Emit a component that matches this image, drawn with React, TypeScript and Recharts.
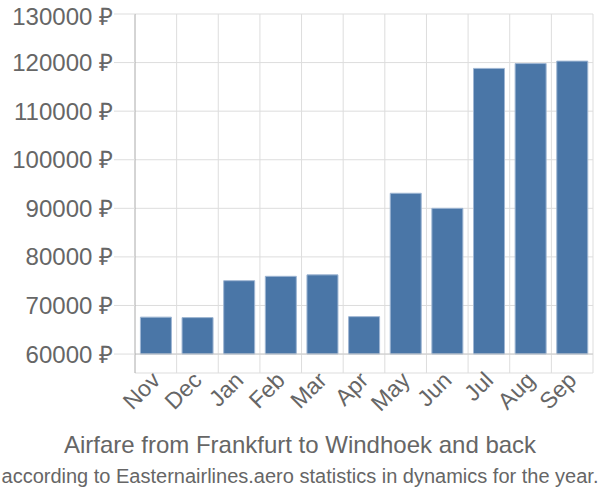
import { Bar, BarChart, CartesianGrid, ReferenceLine, XAxis, YAxis } from 'recharts'

const months = ['Nov', 'Dec', 'Jan', 'Feb', 'Mar', 'Apr', 'May', 'Jun', 'Jul', 'Aug', 'Sep']
const prices = [67600, 67500, 75100, 76000, 76300, 67700, 93100, 90000, 118800, 119800, 120300]
const yTicks = [60000, 70000, 80000, 90000, 100000, 110000, 120000, 130000]

const FONT = '"Liberation Sans", Arial, sans-serif'
const BASE = 60000

const data = months.map((m, i) => ({ month: m, range: [BASE, prices[i]] }))

// labels under the bars, turned 45 degrees
function MonthTick(props: any) {
  const { x, y, payload } = props
  const tx = x - 6
  const ty = y - 5
  return (
    <text
      x={tx}
      y={ty}
      dy="0.72em"
      textAnchor="end"
      fontSize={23}
      fill="#666"
      fontFamily={FONT}
      transform={`rotate(-45 ${tx} ${ty})`}
    >
      {payload.value}
    </text>
  )
}

export default function App() {
  return (
    <div style={{ position: 'absolute', left: 0, top: 0, width: 600, height: 500, background: '#fff' }}>
      <BarChart width={600} height={500} data={data} margin={{ top: 14, right: 7, left: 0, bottom: 0 }} barCategoryGap="13%">
        <CartesianGrid
          stroke="#dddddd"
          verticalCoordinatesGenerator={({ offset }: any) =>
            months.map((_, i) => offset.left + ((i + 1) * offset.width) / months.length)
          }
        />
        <XAxis dataKey="month" height={127} axisLine={false} tickLine={false} tickSize={0} tick={<MonthTick />} interval={0} />
        <YAxis
          width={135}
          domain={[56100, 130000]}
          ticks={yTicks}
          allowDataOverflow
          tickSize={21}
          tickMargin={1}
          tickLine={{ stroke: '#dddddd' }}
          axisLine={{ stroke: '#aaaaaa' }}
          tick={{ fontSize: 24, fill: '#666', fontFamily: FONT }}
          tickFormatter={(v: number) => `${v} ₽`}
        />
        <ReferenceLine y={BASE} stroke="#cccccc" />
        <Bar dataKey="range" fill="#4a76a7" stroke="#9fb6d3" strokeWidth={1} isAnimationActive={false} />
      </BarChart>
      <div
        style={{
          position: 'absolute',
          left: 0,
          top: 430,
          width: 600,
          textAlign: 'center',
          fontFamily: FONT,
          fontSize: 24,
          color: '#666',
          lineHeight: '30px',
        }}
      >
        Airfare from Frankfurt to Windhoek and back
      </div>
      <div
        style={{
          position: 'absolute',
          left: 0,
          top: 462,
          width: 600,
          textAlign: 'center',
          fontFamily: FONT,
          fontSize: 20,
          color: '#666',
          lineHeight: '28px',
          whiteSpace: 'nowrap',
        }}
      >
        according to Easternairlines.aero statistics in dynamics for the year.
      </div>
    </div>
  )
}
